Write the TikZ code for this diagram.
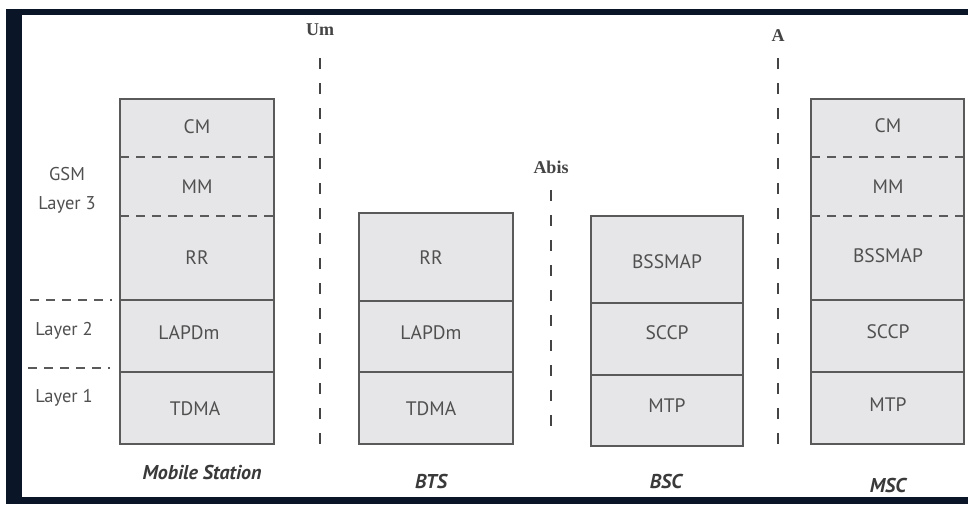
\documentclass[tikz,border=0pt]{standalone}
\usepackage{fontspec}
\setmainfont{PT Sans}
\newfontfamily\serifbold{Liberation Serif}
\begin{document}
\begin{tikzpicture}[x=1pt,y=-1pt,
  layerbox/.style={draw=boxline,line width=1.3pt,fill=boxfill},
  divsolid/.style={draw=boxline,line width=1.3pt},
  divdash/.style={draw=boxline,line width=1.2pt,dash pattern=on 9pt off 7pt},
  iface/.style={draw=ifline,line width=1.6pt,dash pattern=on 11pt off 14pt},
  lbl/.style={text=txtgray,font=\fontsize{19.5}{21}\selectfont,inner sep=0pt},
  sidelbl/.style={text=txtgray,font=\fontsize{18.5}{29}\selectfont,inner sep=0pt,align=center},
  captext/.style={text=captxt,font=\fontsize{20}{22}\selectfont\bfseries\itshape,inner sep=0pt},
  ifl/.style={text=ifline,font=\serifbold\fontsize{18}{20}\selectfont\bfseries,inner sep=0pt}]
\definecolor{boxline}{HTML}{5A5A5A}
\definecolor{boxfill}{HTML}{E6E6E8}
\definecolor{txtgray}{HTML}{505050}
\definecolor{captxt}{HTML}{3A3A3A}
\definecolor{ifline}{HTML}{444444}
\definecolor{frame}{HTML}{0B1528}
\useasboundingbox (0,0) rectangle (968,504);
\fill[white] (0,0) rectangle (968,504);
% frame
\fill[frame] (6,9) rectangle (968,15);
\fill[frame] (6,9) rectangle (22,504);
\fill[frame] (6,497) rectangle (968,504);

% Mobile station
\path[layerbox] (120,99) rectangle (274,444);
\draw[divdash] (120,157) -- (274,157);
\draw[divdash] (120,216) -- (274,216);
\draw[divsolid] (120,300) -- (274,300);
\draw[divsolid] (120,372) -- (274,372);
\node[lbl] (mscm) at (197,127) {CM};
\node[lbl] (msmm) at (197,187) {MM};
\node[lbl] (msrr) at (197,258) {RR};
\node[lbl] (mslap) at (189,333) {LAPDm};
\node[lbl] (mstd) at (195,409) {TDMA};
\node[sidelbl] (l3) at (67,190) {GSM\\Layer 3};
\node[sidelbl] (l2) at (64,331) {Layer 2};
\node[sidelbl] (l1) at (64,398) {Layer 1};
\draw[divdash] (30,300) -- (112,300);
\draw[divdash] (28,368) -- (110,368);
\node[captext] (capms) at (202,472) {Mobile Station};

% Um
\node[ifl] (um) at (320,30) {Um};
\coordinate (umtop) at (320,58);
\coordinate (umbot) at (320,450);
\draw[iface] (umtop) -- (umbot);

% BTS
\path[layerbox] (359,213) rectangle (513,444);
\draw[divsolid] (359,301) -- (513,301);
\draw[divsolid] (359,372) -- (513,372);
\node[lbl] (btsrr) at (431,258) {RR};
\node[lbl] (btslap) at (431,333) {LAPDm};
\node[lbl] (btstd) at (431,409) {TDMA};
\node[captext] (capbts) at (431,481) {BTS};

% Abis
\node[ifl] (abis) at (551,167) {Abis};
\coordinate (abtop) at (551,190);
\coordinate (abbot) at (551,440);
\draw[iface] (abtop) -- (abbot);

% BSC
\path[layerbox] (591,216) rectangle (743,446);
\draw[divsolid] (591,303) -- (743,303);
\draw[divsolid] (591,375) -- (743,375);
\node[lbl] (bscmap) at (667,262) {BSSMAP};
\node[lbl] (bscsccp) at (667,333) {SCCP};
\node[lbl] (bscmtp) at (667,406) {MTP};
\node[captext] (capbsc) at (666,481) {BSC};

% A
\node[ifl] (a) at (778,36) {A};
\coordinate (atop) at (778,58);
\coordinate (abot) at (778,452);
\draw[iface] (atop) -- (abot);

% MSC
\path[layerbox] (811,99) rectangle (964,444);
\draw[divdash] (811,157) -- (964,157);
\draw[divdash] (811,216) -- (964,216);
\draw[divsolid] (811,300) -- (964,300);
\draw[divsolid] (811,372) -- (964,372);
\node[lbl] (msccm) at (888,126) {CM};
\node[lbl] (mscmm) at (888,187) {MM};
\node[lbl] (mscmap) at (888,256) {BSSMAP};
\node[lbl] (mscsccp) at (888,332) {SCCP};
\node[lbl] (mscmtp) at (888,405) {MTP};
\node[captext] (capmsc) at (888,485) {MSC};
\end{tikzpicture}
\end{document}
